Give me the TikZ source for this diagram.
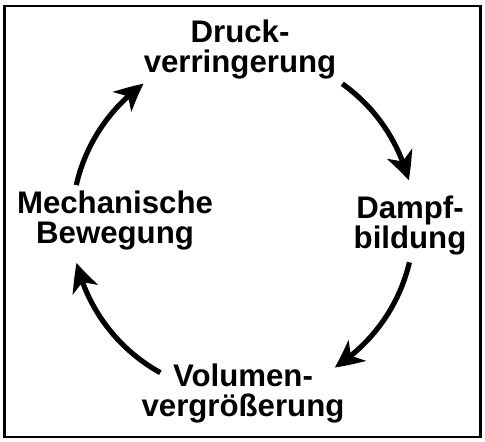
\documentclass[tikz,border=0pt]{standalone}
\usepackage{fontspec}
\setmainfont{Liberation Sans}
\usetikzlibrary{arrows.meta,bending}
\begin{document}
\begin{tikzpicture}[x=0.75pt,y=0.75pt,
  lbl/.style={align=center,inner sep=0pt,font=\fontsize{23.4}{22.5}\selectfont\bfseries},
  cyc/.style={line width=3.9pt,-{Stealth[length=21pt,width=20pt,inset=6pt,bend]}}]
\useasboundingbox (0,0) rectangle (485,-442);
\draw[line width=1.6pt] (4.5,-5.8) rectangle (480.5,-437);
\coordinate (ctr) at (243,-223);
\node[lbl] (druck) at (240,-50) {Druck-\\verringerung};
\node[lbl] (dampf) at (410,-226) {Dampf-\\bildung};
\node[lbl] (vol) at (243,-393) {Volumen-\\vergrößerung};
\node[lbl] (mech) at (115,-221) {Mechanische\\Bewegung};
\draw[cyc] (ctr) ++(54.5:128.25pt) arc[start angle=54.5,end angle=14.4,radius=128.25pt];
\draw[cyc] (ctr) ++(-13.3:128.25pt) arc[start angle=-13.3,end angle=-57.6,radius=128.25pt];
\draw[cyc] (ctr) ++(-118.9:128.25pt) arc[start angle=-118.9,end angle=-166.5,radius=128.25pt];
\draw[cyc] (ctr) ++(167.2:128.25pt) arc[start angle=167.2,end angle=125.5,radius=128.25pt];
\end{tikzpicture}
\end{document}
